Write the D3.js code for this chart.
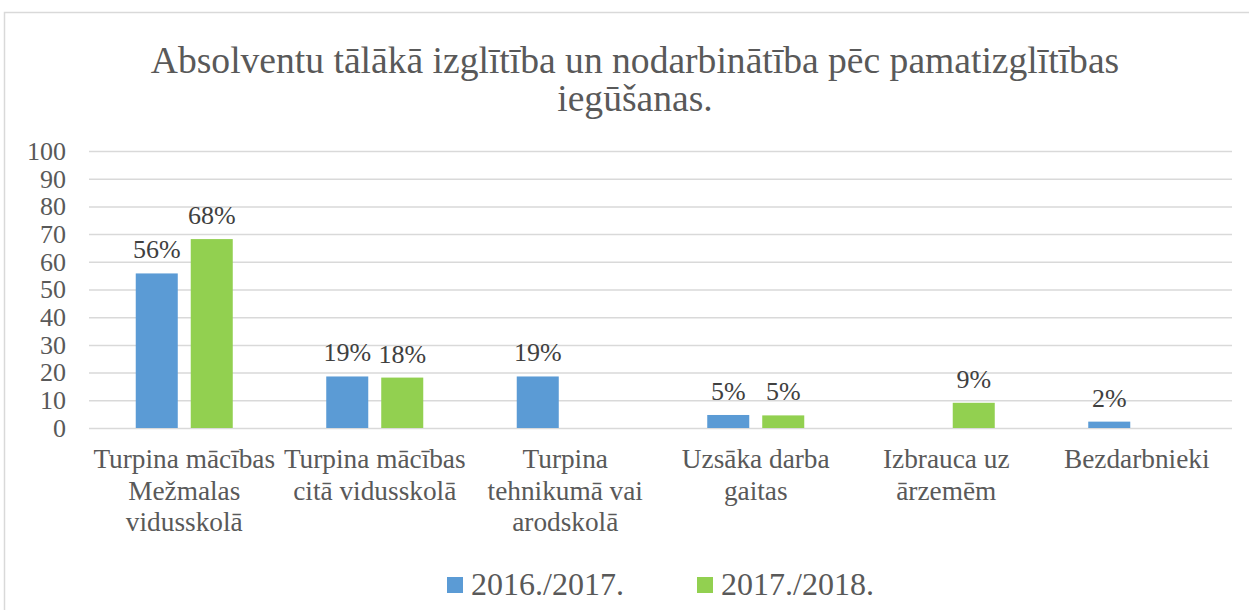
<!DOCTYPE html>
<html>
<head>
<meta charset="utf-8">
<script src="https://cdn.jsdelivr.net/npm/d3@7"></script>
<style>
  body { margin: 0; background: #fff; }
  svg, svg text { font-family: "Liberation Serif", "Times New Roman", serif; }
</style>
</head>
<body>
<div class="chart-container"></div>
<script>
// Chart data (values in %, null = no bar)
const categories = [
    'Turpina mācības\nMežmalas\nvidusskolā',
    'Turpina mācības\ncitā vidusskolā',
    'Turpina\ntehnikumā vai\narodskolā',
    'Uzsāka darba\ngaitas',
    'Izbrauca uz\nārzemēm',
    'Bezdarbnieki'
];
const seriesNames = ['2016./2017.', '2017./2018.'];
const values2016 = [55.8, 18.6, 18.6, 4.7, null, 2.3];
const values2017 = [68.2, 18.2, null, 4.55, 9.1, null];
const yTicks = [0, 10, 20, 30, 40, 50, 60, 70, 80, 90, 100];
const titleLines = ['Absolventu tālākā izglītība un nodarbinātība pēc pamatizglītības', 'iegūšanas.'];

const colors = ['#5B9BD5', '#92D050'];
const serif = '"Liberation Serif", "Times New Roman", serif';

// Setup canvas
const svg_width = 1249;
const svg_height = 610;
const chart_margin = { top: 151, right: 17, bottom: 182, left: 89 };
const chart_width = svg_width - chart_margin.left - chart_margin.right;
const chart_height = svg_height - chart_margin.top - chart_margin.bottom;

const svg = d3.select('.chart-container').append('svg')
    .attr('width', svg_width).attr('height', svg_height)
    .style('font-family', serif);

// outer frame
svg.append('rect')
    .attr('x', 4.5).attr('y', 12.5)
    .attr('width', 1400).attr('height', 800)
    .attr('fill', 'none').attr('stroke', '#d9d9d9').attr('stroke-width', 1.5);

const this_svg = svg.append('g')
    .attr('transform', `translate(${chart_margin.left}, ${chart_margin.top})`);

// scales
const x0 = d3.scaleBand().domain(categories).range([0, chart_width]);
const x1 = d3.scaleBand().domain(seriesNames).range([0, x0.bandwidth()])
    .paddingInner(0.236).paddingOuter(0.85);
const yScale = d3.scaleLinear().domain([0, 100]).range([chart_height, 0]);

// gridlines
const grid = d3.axisLeft(yScale).tickValues(yTicks).tickSize(-chart_width).tickFormat('');
const gridDraw = this_svg.append('g').attr('class', 'grid').call(grid);
gridDraw.select('.domain').remove();
gridDraw.selectAll('line').attr('stroke', '#d9d9d9').attr('stroke-width', 1.5);

// y axis labels
const yAxis = d3.axisLeft(yScale).tickValues(yTicks).tickSize(0).tickPadding(23);
const yAxisDraw = this_svg.append('g').attr('class', 'y axis').call(yAxis)
    .attr('font-family', null).attr('font-size', null);
yAxisDraw.select('.domain').remove();
yAxisDraw.selectAll('text')
    .style('font-family', serif)
    .style('font-size', '26px').attr('fill', '#595959');

// bars
const barData = [];
categories.forEach((c, i) => {
    [values2016, values2017].forEach((vals, s) => {
        if (vals[i] !== null) barData.push({ category: c, series: seriesNames[s], value: vals[i], s: s });
    });
});

this_svg.selectAll('.bar')
    .data(barData)
    .enter()
    .append('rect')
    .attr('class', 'bar')
    .attr('x', d => x0(d.category) + x1(d.series))
    .attr('y', d => yScale(d.value))
    .attr('width', x1.bandwidth())
    .attr('height', d => chart_height - yScale(d.value))
    .attr('fill', d => colors[d.s]);

// data labels
this_svg.selectAll('.bar-label')
    .data(barData)
    .enter()
    .append('text')
    .attr('class', 'bar-label')
    .attr('x', d => x0(d.category) + x1(d.series) + x1.bandwidth() / 2)
    .attr('y', d => yScale(d.value) - 15)
    .attr('text-anchor', 'middle')
    .style('font-family', serif)
    .style('font-size', '26px')
    .attr('fill', '#404040')
    .text(d => d3.format('.0f')(d.value) + '%');

// x axis labels (multi-line)
const xLabels = this_svg.append('g').attr('class', 'x axis')
    .attr('transform', `translate(0, ${chart_height})`);
categories.forEach(c => {
    const t = xLabels.append('text')
        .attr('x', x0(c) + x0.bandwidth() / 2)
        .attr('y', 40)
        .attr('text-anchor', 'middle')
        .style('font-family', serif)
        .style('font-size', '27.3px')
        .attr('fill', '#595959');
    c.split('\n').forEach((line, k) => {
        t.append('tspan').attr('x', x0(c) + x0.bandwidth() / 2)
            .attr('dy', k === 0 ? 0 : 31.5).text(line);
    });
});

// title
const title = svg.append('text')
    .attr('x', 635).attr('y', 73)
    .attr('text-anchor', 'middle')
    .style('font-family', serif)
    .style('font-size', '37.6px')
    .attr('fill', '#595959');
titleLines.forEach((line, k) => {
    title.append('tspan').attr('x', 635).attr('dy', k === 0 ? 0 : 38).text(line);
});

// legend
const legend = svg.append('g').attr('class', 'legend')
    .attr('transform', 'translate(447, 577)');
seriesNames.forEach((name, i) => {
    const item = legend.append('g').attr('transform', `translate(${i * 250}, 0)`);
    item.append('rect').attr('width', 16).attr('height', 16).attr('fill', colors[i]);
    item.append('text').attr('x', 24).attr('y', 18)
        .style('font-family', serif)
        .style('font-size', '32px').attr('fill', '#595959').text(name);
});
</script>
</body>
</html>
